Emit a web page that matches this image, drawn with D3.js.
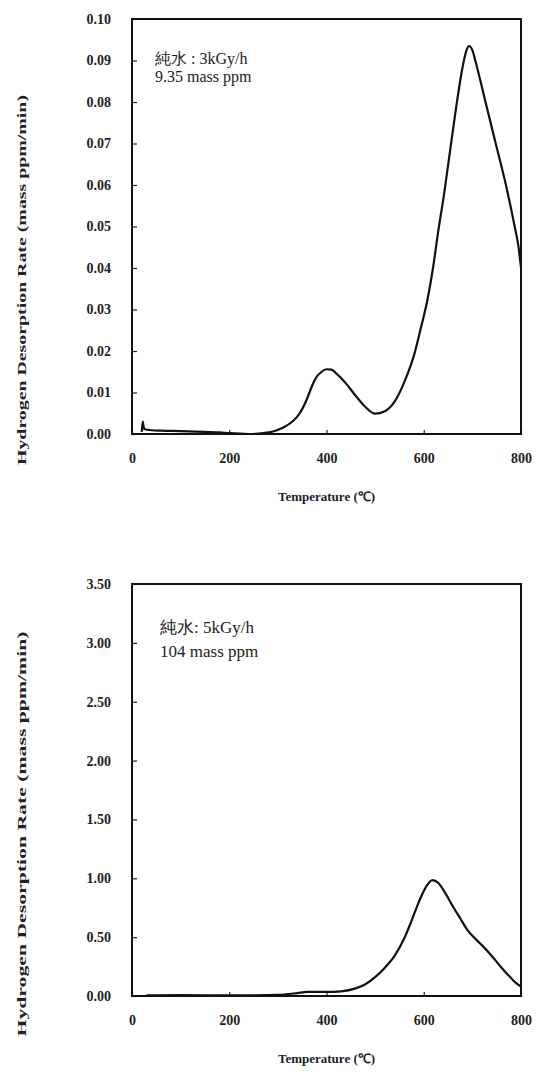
<!DOCTYPE html>
<html>
<head>
<meta charset="utf-8">
<script src="https://cdn.jsdelivr.net/npm/d3@7"></script>
<style>
  body { margin: 0; background: #fff; }
  svg { display: block; }
  text { font-family: "Liberation Serif", "Times New Roman", serif; fill: #222; }
</style>
</head>
<body>
<div id="chart"></div>
<script>
// top panel : 3kGy/h , 9.35 mass ppm
const topTemp = [20, 22, 25, 40, 60, 100, 150, 180, 200, 240, 270, 290, 310, 330, 345, 360, 370, 380, 390, 400, 410, 420, 440, 460, 480, 500, 520, 540, 560, 580, 595, 607, 619, 630, 642, 655, 667, 680, 688, 693, 700, 706, 727, 748, 769, 787, 795, 800];
const topRate = [0.0005, 0.003, 0.0012, 0.0009, 0.0008, 0.0007, 0.0005, 0.0004, 0.0002, 0.0, 0.0002, 0.0006, 0.0015, 0.003, 0.005, 0.0085, 0.0115, 0.0138, 0.015, 0.0156, 0.0155, 0.0146, 0.0122, 0.0092, 0.0065, 0.0049, 0.0055, 0.0078, 0.0125, 0.019, 0.026, 0.032, 0.040, 0.049, 0.058, 0.069, 0.079, 0.0885, 0.0925, 0.0935, 0.0925, 0.090, 0.080, 0.070, 0.060, 0.050, 0.045, 0.040];
const topTicks = [0, 0.01, 0.02, 0.03, 0.04, 0.05, 0.06, 0.07, 0.08, 0.09, 0.10];

// bottom panel : 5kGy/h , 104 mass ppm
const botTemp = [30, 100, 200, 300, 340, 360, 400, 430, 460, 480, 500, 520, 540, 560, 575, 590, 605, 618, 630, 645, 660, 675, 690, 705, 720, 740, 760, 780, 790, 800];
const botRate = [0.005, 0.008, 0.005, 0.01, 0.025, 0.035, 0.035, 0.04, 0.065, 0.10, 0.16, 0.24, 0.34, 0.49, 0.64, 0.80, 0.93, 0.985, 0.96, 0.87, 0.76, 0.66, 0.56, 0.49, 0.43, 0.34, 0.24, 0.15, 0.11, 0.08];
const botTicks = [0, 0.5, 1.0, 1.5, 2.0, 2.5, 3.0, 3.5];

const xTicks = [0, 200, 400, 600, 800];
const yTitle = 'Hydrogen Desorption Rate (mass ppm/min)';
const xTitle = 'Temperature (\u2103)';

const W = 538, H = 1072;
const svg = d3.select('#chart').append('svg')
    .attr('width', W)
    .attr('height', H);

const panel = (opt) => {
    const x = d3.scaleLinear().domain([0, 800]).range([132, 521]);
    const y = d3.scaleLinear().domain([0, opt.ymax]).range([opt.bottom, opt.top]);
    const g = svg.append('g');

    // y axis, ticks pointing in
    g.append('g')
        .attr('transform', 'translate(132,0)')
        .call(d3.axisLeft(y).tickValues(opt.ticks).tickSizeInner(-5).tickSizeOuter(0).tickPadding(21)
            .tickFormat(d3.format(opt.fmt)))
        .call(a => a.select('.domain').remove())
        .call(a => a.selectAll('line').attr('stroke', '#222').attr('stroke-width', 1.2))
        .call(a => a.selectAll('text').attr('font-size', 14).attr('font-weight', 'bold')
            .attr('font-family', '"Liberation Serif", serif').attr('fill', '#222'));

    g.append('g')
        .attr('transform', 'translate(0,' + opt.bottom + ')')
        .call(d3.axisBottom(x).tickValues(xTicks).tickSizeInner(-4).tickSizeOuter(0).tickPadding(19))
        .call(a => a.select('.domain').remove())
        .call(a => a.selectAll('line').attr('stroke', '#222').attr('stroke-width', 1.2))
        .call(a => a.selectAll('text').attr('font-size', 14).attr('font-weight', 'bold')
            .attr('font-family', '"Liberation Serif", serif').attr('fill', '#222'));

    // frame
    g.append('rect')
        .attr('x', x(0)).attr('y', y(opt.ymax))
        .attr('width', x(800) - x(0)).attr('height', y(0) - y(opt.ymax))
        .attr('fill', 'none').attr('stroke', '#111').attr('stroke-width', 2);

    const line = d3.line()
        .x((d, i) => x(opt.temp[i]))
        .y(d => y(d))
        .curve(d3.curveMonotoneX);

    g.append('path')
        .datum(opt.rate)
        .attr('d', line)
        .attr('fill', 'none')
        .attr('stroke', '#111')
        .attr('stroke-width', 2.2)
        .attr('stroke-linejoin', 'round');

    // annotation
    g.selectAll('.note')
        .data(opt.note)
        .enter()
        .append('text')
            .attr('class', 'note')
            .attr('x', opt.noteX)
            .attr('y', (d, i) => opt.noteY + i * opt.noteGap)
            .attr('font-size', opt.noteSize)
            .text(d => d);

    g.append('text')
        .attr('x', (x(0) + x(800)) / 2)
        .attr('y', opt.bottom + 67)
        .attr('text-anchor', 'middle')
        .attr('font-size', 13)
        .attr('font-weight', 'bold')
        .text(xTitle);

    g.append('text')
        .attr('transform', 'translate(26,' + opt.titleY + ') rotate(-90)')
        .attr('text-anchor', 'middle')
        .attr('font-size', 13)
        .attr('font-weight', 'bold')
        .attr('textLength', opt.titleLen)
        .attr('lengthAdjust', 'spacingAndGlyphs')
        .text(yTitle);
};

panel({ temp: topTemp, rate: topRate, ticks: topTicks, ymax: 0.10, fmt: '.2f', top: 19, bottom: 434,
        note: ['\u7d14\u6c34 : 3kGy/h', '9.35 mass ppm'], noteX: 155, noteY: 64, noteGap: 18, noteSize: 16,
        titleY: 280, titleLen: 370 });
panel({ temp: botTemp, rate: botRate, ticks: botTicks, ymax: 3.5, fmt: '.2f', top: 584, bottom: 996,
        note: ['\u7d14\u6c34: 5kGy/h', '104 mass ppm'], noteX: 160, noteY: 633, noteGap: 24, noteSize: 17,
        titleY: 834, titleLen: 405 });
</script>
</body>
</html>
